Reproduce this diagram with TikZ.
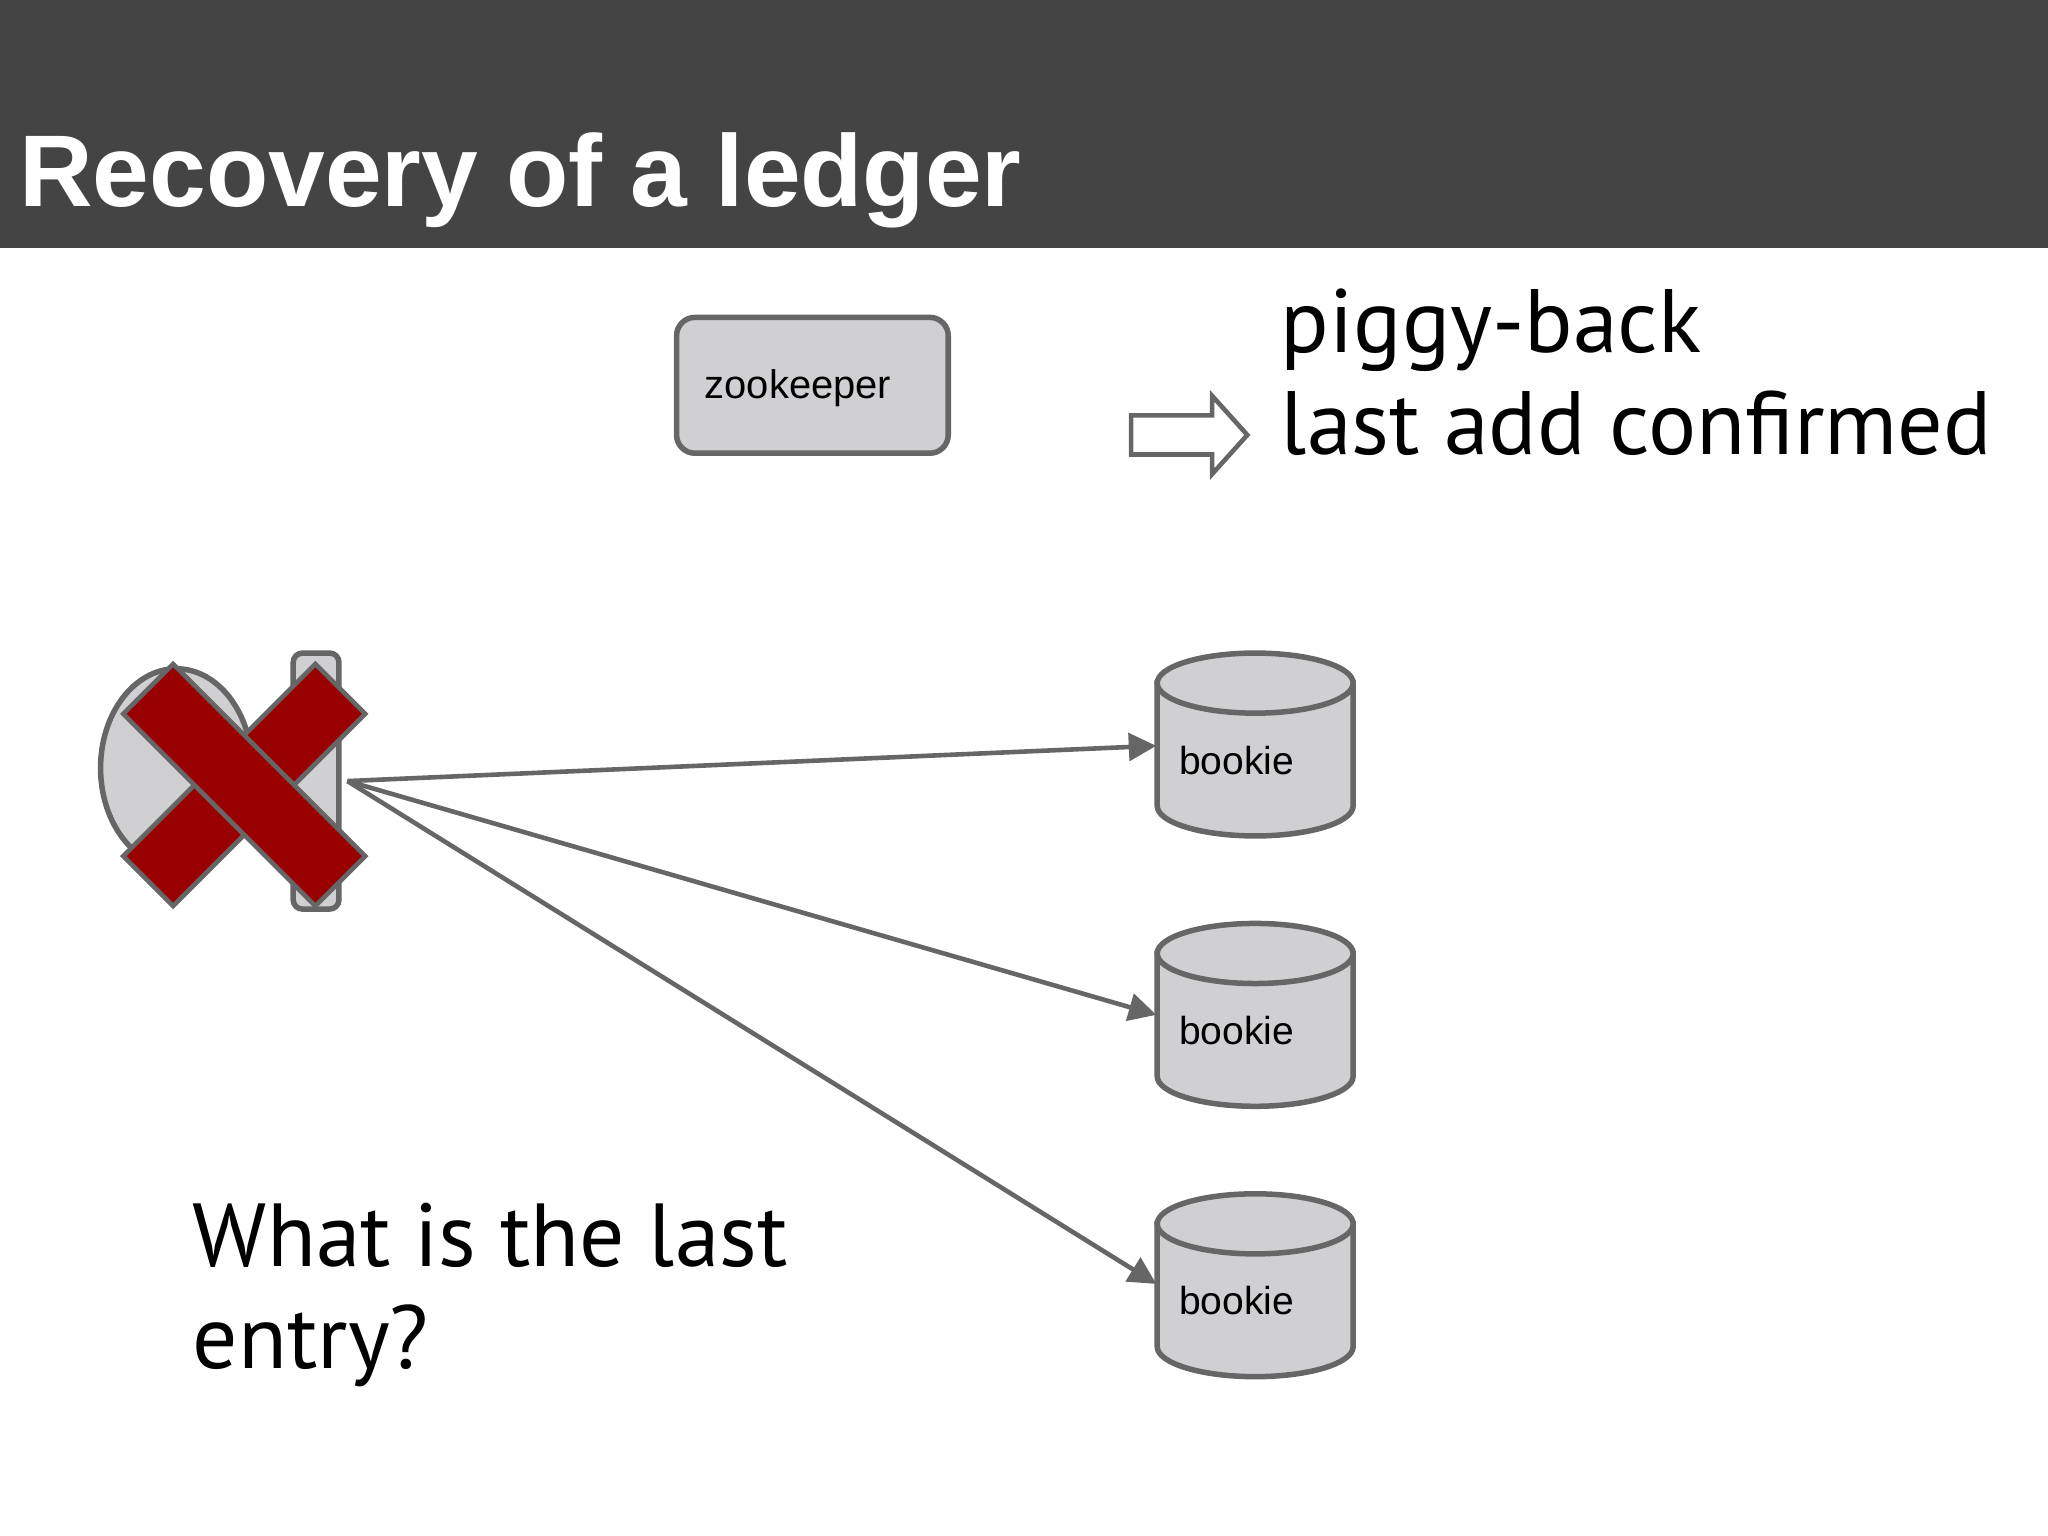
\documentclass[tikz,border=0pt]{standalone}
\usepackage{fontspec}
\setmainfont{Liberation Sans}
\newfontfamily\slide{PT Sans}
\usetikzlibrary{shapes.geometric,arrows.meta}
\definecolor{hdr}{HTML}{444444}
\definecolor{boxf}{HTML}{D0D0D2}
\definecolor{lin}{HTML}{666666}
\definecolor{xred}{HTML}{990000}
\begin{document}
\begin{tikzpicture}[x=0.1mm,y=-0.1mm,
  box/.style={draw=lin,line width=1.2pt,fill=boxf},
  conn/.style={draw=lin,line width=1pt,-{Triangle[length=6pt,width=6pt]}},
  btxt/.style={font=\fontsize{8.5}{10}\selectfont,anchor=west,inner sep=0pt}]
\useasboundingbox (0,0) rectangle (1568,1176);
\fill[hdr] (0,0) rectangle (1568,190);
\node[anchor=base west,inner sep=0pt,text=white,font=\bfseries\fontsize{22.2}{26}\selectfont] (title) at (14,158) {Recovery of a ledger};
\node[box,rounded corners=4pt,minimum width=20.8mm,minimum height=10.4mm] (zk) at (622,295) {};
\node[font=\fontsize{8.7}{10}\selectfont] (zkt) at (611,297) {zookeeper};
% hollow arrow
\draw[draw=lin,line width=1pt,fill=white] (866,318) -- (928,318) -- (928,303) -- (955,333) -- (928,363) -- (928,348) -- (866,348) -- cycle;
\node[anchor=base west,inner sep=0pt,font=\slide\fontsize{19.6}{24}\selectfont] (pb) at (980,270) {piggy-back};
\node[anchor=base west,inner sep=0pt,font=\slide\fontsize{19.6}{24}\selectfont] (lac) at (980,348) {last add confirmed};
% client
\node[box,ellipse,minimum width=11.6mm,minimum height=15.2mm] (cl) at (135,588) {};
\node[box,rounded corners=2pt,minimum width=3.5mm,minimum height=19.6mm,inner sep=0pt] (cr) at (242,598) {};
\coordinate (src) at (266,598);
% red X
\foreach \a in {45,-45}
  \filldraw[fill=xred,draw=lin,line width=1pt,rotate around={\a:(187,601)}] (187-104,601-27) rectangle (187+104,601+27);
\node[inner sep=0pt] (xm) at (187,601) {};
% bookies
\foreach \i/\y in {1/570,2/777,3/984}{
  \filldraw[box] (886,\y-47) -- (886,\y+47) arc[start angle=180,end angle=360,x radius=75,y radius=-23] -- (1036,\y-47) -- cycle;
  \filldraw[box] (961,\y-47) ellipse[x radius=75,y radius=23];
  \node[inner sep=0pt,minimum width=15mm,minimum height=14mm] (b\i) at (961,\y) {};
  \node[btxt] (bt\i) at (902,\y+12) {bookie};
}
\draw[conn] (src) -- (b1.west|-0,571);
\draw[conn] (src) -- (b2.west|-0,777);
\draw[conn] (src) -- (b3.west|-0,983);
\node[anchor=base west,inner sep=0pt,font=\slide\fontsize{19.5}{24}\selectfont] (q1) at (147,970) {What is the last};
\node[anchor=base west,inner sep=0pt,font=\slide\fontsize{19.5}{24}\selectfont] (q2) at (147,1048) {entry?};
\end{tikzpicture}
\end{document}
